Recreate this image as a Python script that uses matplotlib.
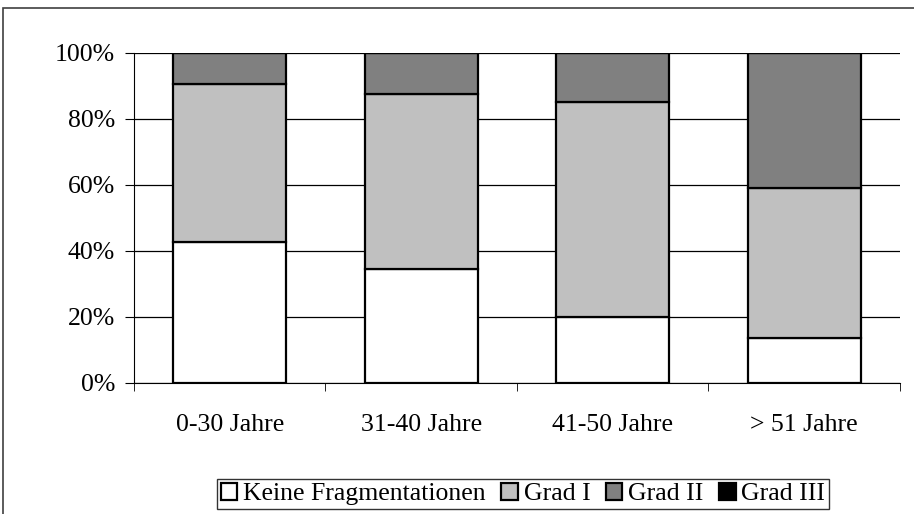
import matplotlib.pyplot as plt
import numpy as np
from matplotlib.patches import Rectangle

plt.rcParams['font.family'] = ['Liberation Serif', 'DejaVu Serif']

categories = ["0-30 Jahre", "31-40 Jahre", "41-50 Jahre", "> 51 Jahre"]
series_names = ["Keine Fragmentationen", "Grad I", "Grad II", "Grad III"]
keine = [42.8, 34.5, 20.0, 13.5]
grad1 = [47.7, 53.0, 65.2, 45.7]
grad2 = [9.5, 12.5, 14.8, 40.8]
grad3 = [0.0, 0.0, 0.0, 0.0]
colors = ["#ffffff", "#c0c0c0", "#808080", "#000000"]


def main():
    fig = plt.figure(figsize=(9.14, 5.14), dpi=100)
    ax = fig.add_axes([0.1466, 0.2549, 0.838, 0.642])

    # outer chart frame
    fig.patches.append(Rectangle((3 / 914, -0.05), 1.05, (514 - 8) / 514 + 0.05,
                                 transform=fig.transFigure, fill=False,
                                 edgecolor="#404040", linewidth=1.2))

    data = np.array([keine, grad1, grad2, grad3])
    x = np.arange(len(categories))
    bottom = np.zeros(len(categories))
    for vals, name, col in zip(data, series_names, colors):
        ax.bar(x, vals, width=0.59, bottom=bottom, color=col, edgecolor="black",
               linewidth=1.6, label=name, zorder=3)
        bottom += vals

    ax.set_ylim(0, 100)
    ax.set_xlim(-0.5, 3.5)
    ax.set_yticks(np.arange(0, 101, 20))
    ax.set_yticklabels([f"{v}%" for v in range(0, 101, 20)], fontsize=18.5)
    ax.yaxis.grid(True, color="black", linewidth=0.9, zorder=0)
    ax.set_xticks(x)
    ax.set_xticklabels(categories, fontsize=18.5)
    ax.set_xticks(np.arange(-0.5, 4.0, 1.0), minor=True)
    ax.tick_params(axis="x", which="major", length=0, pad=22)
    ax.tick_params(axis="x", which="minor", length=6, direction="out")
    ax.tick_params(axis="y", length=6.5, direction="out", pad=7)

    for s in ["top", "right"]:
        ax.spines[s].set_visible(False)
    ax.spines["left"].set_color("black")
    ax.spines["bottom"].set_color("black")

    leg = fig.legend(loc="center", bbox_to_anchor=(523 / 914, 1 - 494 / 514),
                     ncol=4, fontsize=18.5, frameon=True, fancybox=False,
                     edgecolor="black", handlelength=0.65, handleheight=0.65,
                     handletextpad=0.22, columnspacing=0.6, borderpad=0.14,
                     borderaxespad=0)
    leg.get_frame().set_linewidth(1.0)

    fig.savefig("out.png", dpi=100)


if __name__ == "__main__":
    main()
